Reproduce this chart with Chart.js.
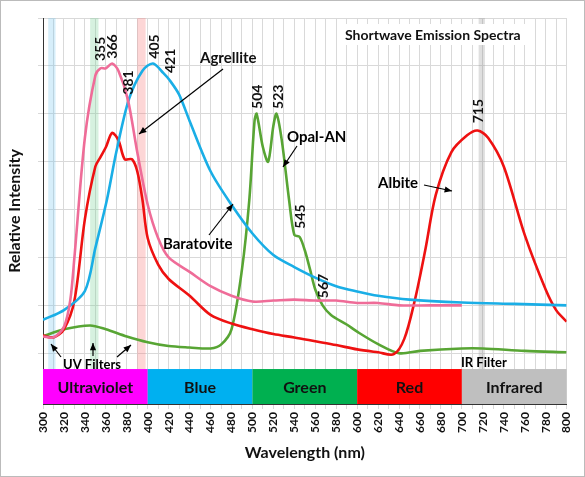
<!DOCTYPE html>
<html><head><meta charset="utf-8">
<script src="https://cdn.jsdelivr.net/npm/chart.js@4"></script>
<style>body{margin:0;background:#fff}#w{width:583px;height:475px;border:1px solid #bbb}</style>
</head><body><div id="w"><canvas id="c"></canvas></div>
<script>
const pinkNm=[300,310,320,326,330,340,350,355,360,366,372,381,390,400,410,420,440,460,480,500,520,540,560,580,600,620,640,670,700];
const pinkV=[0.35,0.33,0.55,1.1,2.0,4.5,5.8,5.95,5.95,6.05,5.9,5.3,4.2,3.1,2.4,2.0,1.7,1.4,1.2,1.08,1.1,1.12,1.1,1.1,1.05,1.05,1.0,1.0,1.0];
const blueNm=[300,320,340,350,361,370,382,395,405,415,421,430,440,460,480,500,520,540,560,580,600,620,650,700,750,800];
const blueV=[0.7,0.9,1.3,2.2,3.2,4.2,5.3,5.9,6.05,5.85,5.7,5.4,4.85,3.8,3.1,2.5,2.05,1.8,1.58,1.4,1.29,1.2,1.12,1.06,1.03,1.0];
const redNm=[300,310,320,330,340,350,355,360,366,372,378,385,390,395,400,410,420,440,460,480,500,520,540,560,580,600,620,635,645,655,665,675,690,705,715,725,740,760,780,790,800];
const redV=[0.37,0.33,0.5,1.1,2.8,3.9,4.1,4.3,4.6,4.45,4.05,4.05,3.8,3.2,2.4,1.85,1.55,1.2,0.8,0.62,0.5,0.4,0.33,0.25,0.17,0.08,0.02,-0.02,0.3,1.1,2.15,3.3,4.2,4.55,4.65,4.5,3.9,2.47,1.33,0.9,0.66];
const greenNm=[300,320,345,360,380,400,420,440,460,470,480,490,497,502,504,510,515,520,523,528,535,540,545,550,555,560,567,575,590,600,620,640,660,700,720,760,800];
const greenV=[0.35,0.5,0.58,0.5,0.35,0.23,0.15,0.12,0.1,0.18,0.5,1.75,3.2,4.85,5.0,4.3,4.0,4.75,5.0,4.45,3.2,2.47,2.43,2.15,1.75,1.33,1.0,0.8,0.6,0.45,0.19,0.0,0.05,0.1,0.1,0.05,0.02];
const regions=[["Ultraviolet",300,400,"#ff00ff"],["Blue",400,500,"#00b0f0"],["Green",500,600,"#00b050"],["Red",600,700,"#ff0000"],["Infrared",700,800,"#bfbfbf"]];
const filters=[[305,312,"rgba(120,200,240,0.3)"],[345,353,"rgba(120,210,150,0.3)"],[390,398,"rgba(250,120,120,0.3)"],[716,722,"rgba(150,150,150,0.3)"]];
const peaks=[["355",355,6.1],["366",366,6.15],["381",382,5.4],["405",406,6.15],["421",422,5.85],["504",505,5.1],["523",525,5.1],["545",546,2.6],["567",568,1.15],["715",716,4.8]];
const ticksX=[];for(let i=300;i<=800;i+=10)ticksX.push(i);
const pts=(a,b)=>a.map((x,i)=>({x,y:b[i]}));
const F="Lato, 'Open Sans', sans-serif";
const deco={id:'deco',
beforeDatasetsDraw(ch){const c=ch.ctx,x=ch.scales.x,y=ch.scales.y;c.save();
 filters.forEach(f=>{c.fillStyle=f[2];c.fillRect(x.getPixelForValue(f[0]),ch.chartArea.top,x.getPixelForValue(f[1])-x.getPixelForValue(f[0]),y.getPixelForValue(-0.33)-ch.chartArea.top);});
 c.restore();},
afterDatasetsDraw(ch){const c=ch.ctx,x=ch.scales.x,y=ch.scales.y;c.save();
 const t=y.getPixelForValue(-0.33),b=y.getPixelForValue(-1.06);
 regions.forEach(r=>{const a=x.getPixelForValue(r[1]),e=x.getPixelForValue(r[2]);c.fillStyle=r[3];c.fillRect(a,t,e-a,b-t);
  c.fillStyle="#111";c.font="bold 16px "+F;c.textAlign="center";c.textBaseline="middle";c.fillText(r[0],(a+e)/2,(t+b)/2+1);});
 c.font="bold 14px "+F;c.fillStyle="#111";c.textBaseline="middle";c.textAlign="left";
 peaks.forEach(p=>{c.save();c.translate(x.getPixelForValue(p[1]),y.getPixelForValue(p[2]));c.rotate(-Math.PI/2);c.fillText(p[0],0,0);c.restore();});
 const arrow=(x1,y1,x2,y2)=>{c.strokeStyle="#000";c.lineWidth=1.2;c.beginPath();c.moveTo(x1,y1);c.lineTo(x2,y2);c.stroke();
  const an=Math.atan2(y2-y1,x2-x1);c.fillStyle="#000";c.beginPath();c.moveTo(x2,y2);c.lineTo(x2-8*Math.cos(an-0.4),y2-8*Math.sin(an-0.4));c.lineTo(x2-8*Math.cos(an+0.4),y2-8*Math.sin(an+0.4));c.closePath();c.fill();};
 c.font="bold 15px "+F;c.fillStyle="#111";
 c.fillText("Agrellite",199,57);arrow(222,68,138,133);
 c.fillText("Opal-AN",286,136);arrow(296,145,282,166);
 c.fillText("Baratovite",162,243);arrow(208,234,232,203);
 c.fillText("Albite",377,182);arrow(423,184,451,190);
 c.font="bold 13px "+F;c.fillText("UV Filters",62,364);c.fillText("IR Filter",460,362);
 arrow(60,356,50,343);arrow(92,355,92,342);arrow(116,356,130,344);
 c.font="bold 14px "+F;const tw=c.measureText("Shortwave Emission Spectra").width;c.fillStyle="#fff";c.fillRect(338,23,tw+12,21);
 c.fillStyle="#111";c.fillText("Shortwave Emission Spectra",344,34);
 c.restore();}};
new Chart(document.getElementById('c'),{type:'line',
data:{datasets:[
 {data:pts(pinkNm,pinkV),borderColor:"#ef6c98"},
 {data:pts(blueNm,blueV),borderColor:"#1aaee6"},
 {data:pts(redNm,redV),borderColor:"#ee1111"},
 {data:pts(greenNm,greenV),borderColor:"#58a534"}]},
options:{animation:false,responsive:true,maintainAspectRatio:false,
 elements:{point:{radius:0},line:{borderWidth:2.6,tension:0.3}},
 layout:{padding:{top:17,right:14,bottom:10,left:0}},
 plugins:{legend:{display:false},tooltip:{enabled:false}},
 scales:{
  x:{type:'linear',min:300,max:800,afterBuildTicks:s=>{s.ticks=ticksX.map(v=>({value:v}));},
   afterFit:s=>{s.height=62;},
   ticks:{autoSkip:false,maxRotation:90,minRotation:90,color:"#111",font:{family:F,size:12,weight:'bold'},callback:v=>v%20===0?v:''},
   grid:{color:"#d9d9d9",tickLength:5},border:{color:"#333"},
   title:{display:true,text:"Wavelength (nm)",color:"#111",font:{family:F,size:16,weight:'bold'}}},
  y:{min:-1.06,max:7,afterBuildTicks:s=>{s.ticks=[0,1,2,3,4,5,6,7].map(v=>({value:v}));},
   afterFit:s=>{s.width=42;},
   ticks:{callback:()=>'',padding:0},grid:{color:"#d9d9d9",tickLength:5},border:{color:"#333"},
   title:{display:true,text:"Relative Intensity",color:"#111",font:{family:F,size:16,weight:'bold'}}}}},
plugins:[deco]});
</script></body></html>
